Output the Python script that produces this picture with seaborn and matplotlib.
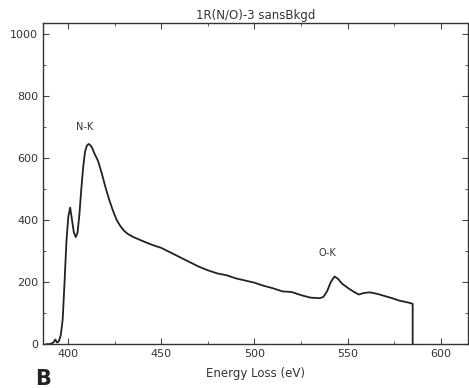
import numpy as np
import seaborn as sns
import matplotlib.pyplot as plt
from matplotlib.ticker import MultipleLocator

# energy loss (eV) and counts
energy = [388, 390, 392, 393, 394, 395, 396, 397, 398, 399, 400, 401, 402, 403,
          404, 405, 406, 407, 408, 409, 410, 411, 412, 413, 414, 416, 418, 420,
          422, 424, 426, 428, 430, 432, 435, 440, 445, 450, 455, 460, 465, 470,
          475, 480, 485, 490, 495, 500, 505, 510, 515, 520, 525, 530, 535, 537,
          539, 541, 543, 545, 547, 550, 553, 556, 559, 562, 566, 570, 574, 578,
          582, 585, 585]
counts = [0, 0, 5, 15, 5, 10, 30, 80, 200, 330, 410, 440, 400, 360,
          345, 360, 420, 500, 570, 620, 640, 645, 640, 630, 615, 590, 550, 505,
          465, 430, 400, 380, 365, 355, 345, 332, 320, 310, 295, 280, 265, 250,
          238, 228, 222, 212, 205, 198, 188, 180, 170, 168, 158, 150, 148, 152,
          170, 200, 218, 210, 195, 182, 170, 160, 165, 167, 162, 155, 148, 140,
          135, 130, 0]

edge_labels = ["N-K", "O-K"]
edge_pos = [(409, 700), (539, 293)]

sns.set_style("ticks")
plt.rcParams['font.family'] = ['DejaVu Sans']
txt = "#333333"

fig = plt.figure(figsize=(4.69, 3.88), dpi=100)
ax = fig.add_axes([0.092, 0.113, 0.905, 0.828])

sns.lineplot(x=energy, y=counts, estimator=None, sort=False, color="#222222",
             linewidth=1.3, ax=ax)

ax.set_xlim(386.5, 614.5)
ax.set_ylim(0, 1035)
ax.xaxis.set_major_locator(MultipleLocator(50))
ax.xaxis.set_minor_locator(MultipleLocator(25))
ax.yaxis.set_major_locator(MultipleLocator(200))
ax.yaxis.set_minor_locator(MultipleLocator(100))
ax.tick_params(which="both", direction="in", top=True, right=True,
               labelsize=8, colors="#444444", labelcolor=txt)
ax.tick_params(which="major", length=4)
ax.tick_params(which="minor", length=2)
for s in ax.spines.values():
    s.set_color("#333333")
    s.set_linewidth(1.0)

ax.set_title("1R(N/O)-3 sansBkgd", fontsize=8.5, color=txt, pad=3)
ax.set_xlabel("Energy Loss (eV)", fontsize=8.5, color=txt, labelpad=6)

for lab, (x, y) in zip(edge_labels, edge_pos):
    ax.text(x, y, lab, fontsize=7, color=txt, ha="center", va="center")

fig.text(0.075, 0.008, "B", fontsize=15, fontweight="bold", color="#222222")

fig.savefig("out.png", dpi=100)
